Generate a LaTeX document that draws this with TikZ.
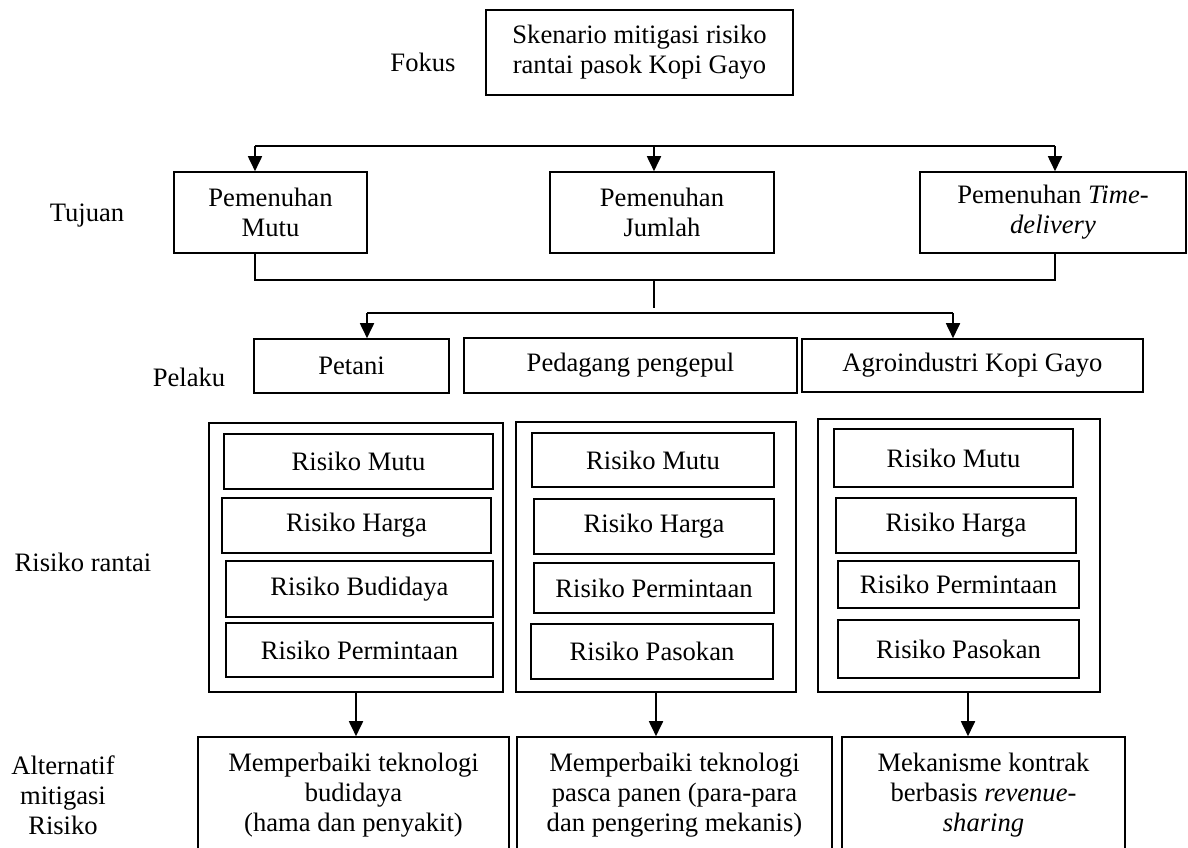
\documentclass[tikz,border=0pt]{standalone}
\usepackage{fontspec}
\setmainfont{Liberation Serif}
\usetikzlibrary{arrows.meta}
\newcommand{\teks}{\fontsize{13.3}{15}\selectfont}
\tikzset{
  kotak/.style={draw,line width=0.8pt,inner sep=0pt,align=center,font=\teks},
  label/.style={align=center,font=\teks},
  garis/.style={line width=0.8pt},
  panah/.style={line width=0.9pt,-{Triangle[width=7pt,length=7.5pt]}}
}
\begin{document}
\begin{tikzpicture}[x=0.5pt,y=-0.5pt]
    \useasboundingbox (0,0) rectangle (1188,847);
    \node[label] (lfokus) at (423,62) {Fokus};
    \node[label] (ltujuan) at (87,216) {Tujuan};
    \node[label] (lpelaku) at (189,377) {Pelaku};
    \node[label] (lrisiko) at (83,562) {Risiko rantai};
    \node[label] (lalt) at (63,795) {Alternatif\\mitigasi\\Risiko};
    \node[kotak,minimum width=153.5pt,minimum height=42.5pt] (fokus) at (639.5,52.5) {Skenario mitigasi risiko\\rantai pasok Kopi Gayo};
    \node[kotak,minimum width=96.5pt,minimum height=40.5pt] (mutu) at (270.5,212.5) {Pemenuhan\\Mutu};
    \node[kotak,minimum width=112pt,minimum height=40.5pt] (jumlah) at (662,212.5) {Pemenuhan\\Jumlah};
    \node[kotak,minimum width=133pt,minimum height=40.5pt] (waktu) at (1053,212.5) {Pemenuhan \textit{Time-}\\\textit{delivery}};
    \node[kotak,minimum width=97.5pt,minimum height=27pt] (petani) at (351.5,366) {Petani};
    \node[kotak,minimum width=166.5pt,minimum height=27.5pt] (pengepul) at (630.5,365.5) {Pedagang pengepul};
    \node[kotak,minimum width=170.5pt,minimum height=26.5pt] (agro) at (972.5,365.5) {Agroindustri Kopi Gayo};
    \node[kotak,minimum width=147pt,minimum height=134.5pt] (luar1) at (356,557.5) {};
    \node[kotak,minimum width=140pt,minimum height=135pt] (luar2) at (656,557) {};
    \node[kotak,minimum width=141pt,minimum height=136.5pt] (luar3) at (959,555.5) {};
    \node[kotak,minimum width=134.5pt,minimum height=27.5pt] (r1a) at (358.5,461.5) {Risiko Mutu};
    \node[kotak,minimum width=134.5pt,minimum height=27.5pt] (r1b) at (356.5,525.5) {Risiko Harga};
    \node[kotak,minimum width=133.5pt,minimum height=28pt] (r1c) at (359.5,589) {Risiko Budidaya};
    \node[kotak,minimum width=133.5pt,minimum height=27pt] (r1d) at (359.5,650) {Risiko Permintaan};
    \node[kotak,minimum width=121pt,minimum height=27pt] (r2a) at (653,460) {Risiko Mutu};
    \node[kotak,minimum width=120pt,minimum height=27.5pt] (r2b) at (654,526.5) {Risiko Harga};
    \node[kotak,minimum width=120pt,minimum height=25pt] (r2c) at (654,588) {Risiko Permintaan};
    \node[kotak,minimum width=121pt,minimum height=27.5pt] (r2d) at (652,651.5) {Risiko Pasokan};
    \node[kotak,minimum width=119.5pt,minimum height=29pt] (r3a) at (953.5,458) {Risiko Mutu};
    \node[kotak,minimum width=120pt,minimum height=27.5pt] (r3b) at (956,525.5) {Risiko Harga};
    \node[kotak,minimum width=120.5pt,minimum height=23.5pt] (r3c) at (958.5,584.5) {Risiko Permintaan};
    \node[kotak,minimum width=120.5pt,minimum height=29pt] (r3d) at (958.5,649) {Risiko Pasokan};
    \node[kotak,minimum width=155.5pt,minimum height=58pt] (alt1) at (353.5,795) {Memperbaiki teknologi\\budidaya\\(hama dan penyakit)};
    \node[kotak,minimum width=157.5pt,minimum height=58pt] (alt2) at (674.5,795) {Memperbaiki teknologi\\pasca panen (para-para\\dan pengering mekanis)};
    \node[kotak,minimum width=141.5pt,minimum height=58pt] (alt3) at (983.5,795) {Mekanisme kontrak\\berbasis \textit{revenue-}\\\textit{sharing}};
    \coordinate (t1) at (255,146);
    \coordinate (t2) at (654,146);
    \coordinate (t3) at (1055,146);
    \draw[garis] (t1) -- (t3);
    \draw[panah] (t1) -- (t1 |- mutu.north);
    \draw[panah] (t2) -- (t2 |- jumlah.north);
    \draw[panah] (t3) -- (t3 |- waktu.north);
    \coordinate (b1) at (255,280);
    \coordinate (b2) at (654,280);
    \coordinate (b3) at (1055,280);
    \coordinate (c2) at (654,308);
    \draw[garis] (b1 |- mutu.south) -- (b1) -- (b3) -- (b3 |- waktu.south);
    \draw[garis] (b2) -- (c2);
    \coordinate (p1) at (367,313);
    \coordinate (p3) at (953,313);
    \draw[garis] (p1) -- (p3);
    \draw[panah] (p1) -- (p1 |- petani.north);
    \draw[panah] (p3) -- (p3 |- agro.north);
    \draw[panah] (luar1.south) -- (luar1.south |- alt1.north);
    \draw[panah] (luar2.south) -- (luar2.south |- alt2.north);
    \draw[panah] ([xshift=4.5pt]luar3.south) -- ([xshift=4.5pt]luar3.south |- alt3.north);
\end{tikzpicture}
\end{document}
